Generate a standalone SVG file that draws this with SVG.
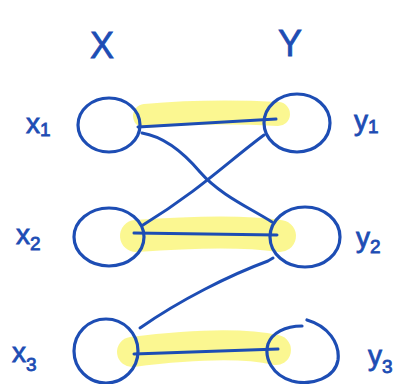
<svg xmlns="http://www.w3.org/2000/svg" width="404" height="384" viewBox="0 0 404 384">
<style>
.n{fill:none;stroke:#1d4db4;stroke-width:3.2;stroke-linecap:round;stroke-linejoin:round}
.e{fill:none;stroke:#1d4db4;stroke-width:3;stroke-linecap:round}
.h{fill:none;stroke:#fbf685;stroke-linecap:round;opacity:0.9}
.t{font-family:"Liberation Sans",sans-serif;fill:#1d4db4;stroke:#1d4db4;stroke-width:0.8}
.big{font-size:36px}
.lab{font-size:28px}
.sub{font-size:19px}
</style>
<rect width="404" height="384" fill="#fff"/>
<g id="highlights">
<path class="h" d="M145,116 C190,112 240,112 278,114" stroke-width="24"/>
<path class="h" d="M136,236 C190,232 240,230 280,236" stroke-width="32"/>
<path class="h" d="M132,352 C180,346 240,342 276,350" stroke-width="30"/>
</g>
<g id="connectors">
<path class="e" d="M138,127 L276,119"/>
<path class="e" d="M142,133 C160,136 178,146 200,172 C220,195 250,208 272,222"/>
<path class="e" d="M264,135 C230,160 200,190 143,225"/>
<path class="e" d="M134,233 L277,235"/>
<path class="e" d="M140,328 C180,300 230,275 268,261 L273,258"/>
<path class="e" d="M134,354 L278,349"/>
</g>
<g id="x1"><ellipse class="n" cx="109" cy="125" rx="31" ry="27"/><text class="t lab" x="26" y="133">x<tspan class="sub" dy="3">1</tspan></text></g>
<g id="y1"><ellipse class="n" cx="297" cy="123" rx="33" ry="29"/><text class="t lab" x="354" y="130">y<tspan class="sub" dy="3">1</tspan></text></g>
<g id="x2"><ellipse class="n" cx="109" cy="237" rx="35" ry="29"/><text class="t lab" x="16" y="244">x<tspan class="sub" dy="6">2</tspan></text></g>
<g id="y2"><ellipse class="n" cx="305" cy="237" rx="35" ry="30"/><text class="t lab" x="356" y="247">y<tspan class="sub" dy="6">2</tspan></text></g>
<g id="x3"><ellipse class="n" cx="106" cy="351" rx="32" ry="32"/><text class="t lab" x="12" y="362">x<tspan class="sub" dy="9">3</tspan></text></g>
<g id="y3"><path class="n" d="M307,320 C328,326 340,343 338,360 C335,378 312,386 292,381 C272,375 264,358 268,344 C272,333 285,326 302,326"/><text class="t lab" x="368" y="365">y<tspan class="sub" dy="8">3</tspan></text></g>
<text class="t big" x="90" y="58">X</text>
<text class="t big" x="278" y="56">Y</text>
</svg>
